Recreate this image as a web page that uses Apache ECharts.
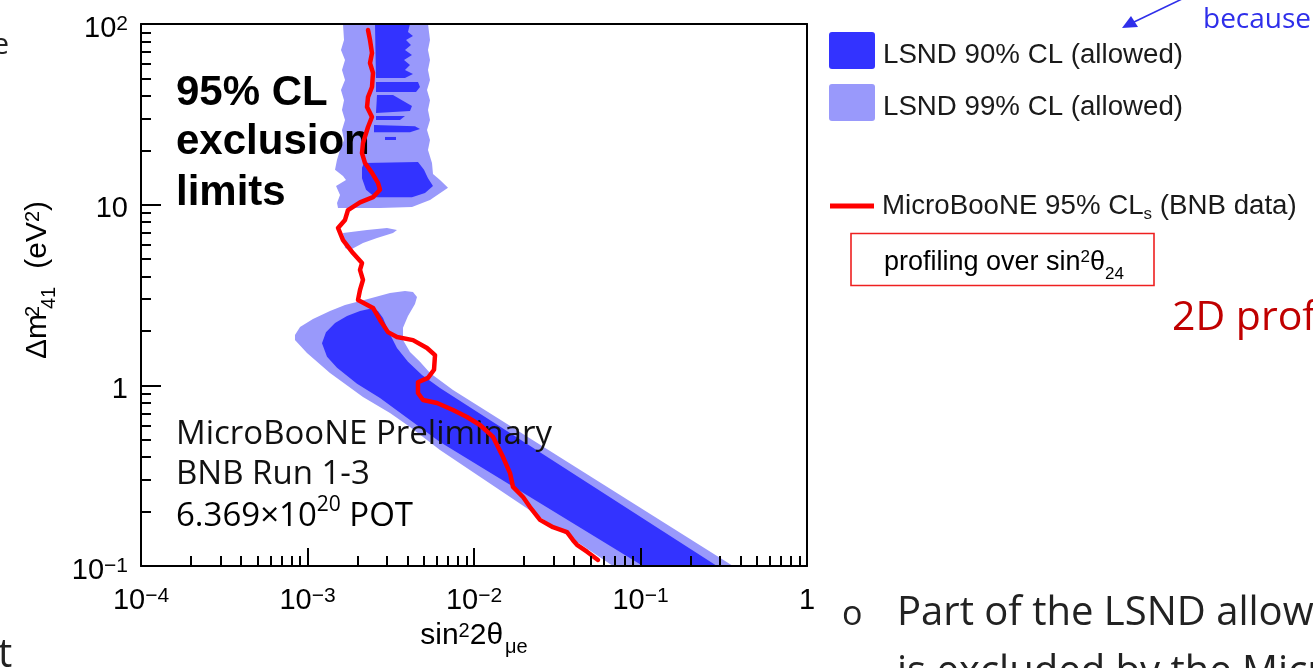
<!DOCTYPE html>
<html>
<head>
<meta charset="utf-8">
<title>LSND allowed regions and MicroBooNE exclusion</title>
<script src="https://cdn.jsdelivr.net/npm/echarts@6/dist/echarts.min.js"></script>
<style>
  html, body { margin: 0; padding: 0; background: #ffffff; overflow: hidden; }
  #chart { width: 1313px; height: 668px; }
</style>
</head>
<body>
<div id="chart"></div>
<script>
// ---- Axis ticks (sin^2 2θ_μe horizontally, Δm^2_41 vertically, both logarithmic) ----
const xTickValues = [1e-4, 1e-3, 1e-2, 1e-1, 1];
const xTickLabels = [['10', '−4'], ['10', '−3'], ['10', '−2'], ['10', '−1'], ['1', '']];
const yTickValues = [0.1, 1, 10, 100];
const yTickLabels = [['10', '−1'], ['1', ''], ['10', ''], ['10', '2']];
const minorMantissas = [2, 3, 4, 5, 6, 7, 8, 9];
const xDecades = [1e-4, 1e-3, 1e-2, 1e-1];
const yDecades = [0.1, 1, 10];

// ---- LSND 99% CL allowed region, vertices as [sin^2 2θ, Δm^2 (eV^2)] ----
const lsnd99Column = [
  [1.634e-3, 100], [1.657e-3, 81.5], [1.589e-3, 71.8], [1.680e-3, 63.2], [1.611e-3, 55.7],
  [1.680e-3, 49.0], [1.589e-3, 43.1], [1.657e-3, 37.9], [1.611e-3, 33.4], [1.680e-3, 29.4],
  [1.611e-3, 25.9], [1.657e-3, 22.8], [1.568e-3, 20.1], [1.504e-3, 17.7], [1.463e-3, 15.6],
  [1.634e-3, 14.4], [1.703e-3, 13.7], [1.484e-3, 12.7], [1.568e-3, 11.3], [1.504e-3, 10.2],
  [1.525e-3, 9.58], [2.725e-3, 9.58], [4.242e-3, 9.71], [5.442e-3, 10.6], [6.980e-3, 12.4],
  [6.249e-3, 13.7], [5.672e-3, 14.8], [5.594e-3, 17.0], [5.293e-3, 20.1], [5.442e-3, 22.8],
  [5.221e-3, 25.9], [5.442e-3, 29.4], [5.293e-3, 33.4], [5.442e-3, 37.9], [5.221e-3, 43.1],
  [5.442e-3, 49.0], [5.293e-3, 55.7], [5.442e-3, 63.2], [5.293e-3, 71.8], [5.442e-3, 81.5],
  [5.293e-3, 100]
];
const lsnd99Wedge = [
  [1.634e-3, 6.97], [2.278e-3, 7.24], [3.002e-3, 7.43], [3.447e-3, 7.24], [3.262e-3, 6.97],
  [2.615e-3, 6.54], [2.154e-3, 6.13], [1.800e-3, 5.61], [1.680e-3, 5.76]
];
const lsnd99Band = [
  [8.41e-4, 1.90], [9.02e-4, 2.10], [1.079e-3, 2.33], [1.365e-3, 2.58], [1.680e-3, 2.78],
  [2.278e-3, 3.00], [3.129e-3, 3.24], [3.851e-3, 3.33], [4.301e-3, 3.29], [4.546e-3, 3.08],
  [4.421e-3, 2.82], [4.014e-3, 2.42], [3.746e-3, 2.08], [3.746e-3, 1.78], [4.127e-3, 1.53],
  [4.738e-3, 1.35], [5.442e-3, 1.17], [7.480e-3, 0.942], [0.3594, 0.1], [6.834e-2, 0.1],
  [6.249e-3, 0.439], [4.127e-3, 0.588], [3.129e-3, 0.703], [2.154e-3, 0.862], [1.365e-3, 1.17],
  [9.93e-4, 1.51], [8.41e-4, 1.78]
];

// ---- LSND 90% CL allowed region ----
const lsnd90Top = [
  [2.543e-3, 100], [4.127e-3, 100], [4.014e-3, 90.3], [4.301e-3, 85.8], [3.905e-3, 81.5],
  [4.184e-3, 76.5], [3.851e-3, 71.8], [4.242e-3, 67.4], [3.799e-3, 63.2], [4.127e-3, 59.3],
  [3.851e-3, 55.7], [4.301e-3, 52.9], [3.851e-3, 50.2], [2.578e-3, 50.2]
];
const lsnd90Stripe1 = [[2.578e-3, 47.7], [4.609e-3, 47.7], [4.738e-3, 44.8], [4.484e-3, 42.0], [2.578e-3, 42.0]];
const lsnd90Stripe2 = [[2.615e-3, 40.5], [3.262e-3, 40.5], [3.695e-3, 37.9], [4.242e-3, 35.2], [4.127e-3, 33.0], [2.578e-3, 32.2]];
const lsnd90Stripe3 = [[2.578e-3, 31.0], [3.851e-3, 31.0], [3.594e-3, 29.4], [2.578e-3, 29.4]];
const lsnd90Stripe4 = [[2.508e-3, 27.6], [4.421e-3, 27.2], [4.738e-3, 26.2], [4.127e-3, 25.2], [2.508e-3, 25.2]];
const lsnd90Speck = [[2.921e-3, 23.7], [3.400e-3, 23.7], [3.400e-3, 22.8], [2.921e-3, 22.8]];
const lsnd90Lump = [
  [2.184e-3, 17.0], [4.609e-3, 17.2], [5.009e-3, 15.6], [5.293e-3, 14.0], [5.672e-3, 12.7],
  [5.078e-3, 11.6], [4.242e-3, 11.0], [2.543e-3, 11.0], [2.246e-3, 12.1], [2.125e-3, 14.0],
  [2.125e-3, 16.0]
];
const lsnd90Band = [
  [1.222e-3, 1.71], [1.291e-3, 1.97], [1.463e-3, 2.21], [1.727e-3, 2.42], [2.067e-3, 2.58],
  [2.374e-3, 2.65], [2.651e-3, 2.58], [2.841e-3, 2.36], [3.086e-3, 1.97], [3.447e-3, 1.61],
  [4.014e-3, 1.35], [4.871e-3, 1.14], [6.249e-3, 0.967], [0.2880, 0.1], [0.1035, 0.1],
  [6.249e-3, 0.486], [4.127e-3, 0.643], [2.725e-3, 0.851], [1.983e-3, 1.02], [1.504e-3, 1.25],
  [1.310e-3, 1.44]
];

// ---- MicroBooNE 95% CLs exclusion contour ----
const microbooneLimit = [
  [2.309e-3, 92.6], [2.374e-3, 81.5], [2.440e-3, 69.1], [2.374e-3, 60.8], [2.474e-3, 53.6],
  [2.440e-3, 44.8], [2.309e-3, 39.4], [2.278e-3, 34.7], [2.440e-3, 30.6], [2.309e-3, 26.9],
  [2.154e-3, 21.9], [2.125e-3, 19.3], [2.215e-3, 17.0], [2.440e-3, 15.0], [2.651e-3, 13.2],
  [2.725e-3, 12.1], [2.474e-3, 11.0], [2.067e-3, 10.3], [1.751e-3, 9.34], [1.680e-3, 8.23],
  [1.525e-3, 7.43], [1.634e-3, 6.37], [1.876e-3, 5.40], [2.125e-3, 4.75], [2.067e-3, 4.35],
  [2.154e-3, 3.83], [2.067e-3, 3.37], [2.011e-3, 2.97], [2.474e-3, 2.68], [2.725e-3, 2.30],
  [3.044e-3, 1.97], [3.447e-3, 1.85], [4.301e-3, 1.78], [5.221e-3, 1.61], [5.832e-3, 1.47],
  [5.752e-3, 1.22], [5.293e-3, 1.10], [4.609e-3, 1.04], [4.609e-3, 0.907], [4.939e-3, 0.829],
  [5.995e-3, 0.799], [7.480e-3, 0.730], [9.078e-3, 0.668], [1.086e-2, 0.603], [1.301e-2, 0.518],
  [1.494e-2, 0.401], [1.646e-2, 0.327], [1.715e-2, 0.274], [1.970e-2, 0.241], [2.169e-2, 0.212],
  [2.492e-2, 0.180], [2.982e-2, 0.164], [3.620e-2, 0.154], [3.932e-2, 0.139], [4.155e-2, 0.131],
  [4.772e-2, 0.120], [5.555e-2, 0.108]
];

const NAME_90 = 'LSND 90% CL (allowed)';
const NAME_99 = 'LSND 99% CL (allowed)';
const NAME_UB = 'MicroBooNE 95% CLs (BNB data)';
const COLOR_90 = '#3333ff';
const COLOR_99 = '#9999fb';
const COLOR_UB = '#ff0000';

const AX = '"Liberation Sans", Arial, Helvetica, sans-serif';
const SL = '"Open Sans", "Noto Sans", sans-serif';

const xMinor = [];
xDecades.forEach(d => minorMantissas.forEach(m => xMinor.push(m * d)));
const yMinor = [];
yDecades.forEach(d => minorMantissas.forEach(m => yMinor.push(m * d)));

function tickFormatter(values, labels) {
  return function (v) {
    const lv = Math.log10(v);
    let idx = 0, best = Infinity;
    values.forEach((t, k) => {
      const d = Math.abs(Math.log10(t) - lv);
      if (d < best) { best = d; idx = k; }
    });
    const base = labels[idx][0], exp = labels[idx][1];
    return '{b|' + base + '}' + (exp ? '{s|' + exp + '}' : '');
  };
}

const tickRich = {
  b: { fontFamily: AX, fontSize: 29, color: '#000', lineHeight: 34, verticalAlign: 'top' },
  s: { fontFamily: AX, fontSize: 21, color: '#000', lineHeight: 34, verticalAlign: 'top' }
};
const titleRich = {
  t: { fontFamily: AX, fontSize: 30, color: '#000', lineHeight: 36, verticalAlign: 'top' },
  g: { fontFamily: AX, fontSize: 30, color: '#000', lineHeight: 36, verticalAlign: 'top', width: 18 },
  p: { fontFamily: AX, fontSize: 20, color: '#000', verticalAlign: 'top' },
  ps: { fontFamily: AX, fontSize: 20, color: '#000', verticalAlign: 'top', width: 1, padding: [0, 0, 0, 2] },
  q: { fontFamily: AX, fontSize: 20, color: '#000', verticalAlign: 'bottom', padding: [0, 0, 0, 2] }
};

const black2 = { color: '#000', width: 2 };

function polygonSeries(name, polys, color, z) {
  return {
    name: name,
    type: 'custom',
    coordinateSystem: 'cartesian2d',
    xAxisIndex: 0,
    yAxisIndex: 0,
    z: z,
    silent: true,
    clip: true,
    itemStyle: { color: color },
    data: polys.map(p => p[0]),
    renderItem: function (params, api) {
      const poly = polys[params.dataIndex];
      return {
        type: 'polygon',
        shape: { points: poly.map(pt => api.coord(pt)) },
        style: { fill: color, stroke: null }
      };
    }
  };
}

const chart = echarts.init(document.getElementById('chart'), null, { renderer: 'canvas' });

const option = {
  animation: false,
  backgroundColor: '#ffffff',
  textStyle: { fontFamily: AX },
  grid: { left: 141, right: 506, top: 24, bottom: 102, containLabel: false, outerBoundsMode: 'none' },
  xAxis: [
    {
      type: 'log', logBase: 10, min: 1e-4, max: 1, position: 'bottom', z: 20,
      axisLine: { show: true, onZero: false, lineStyle: black2 },
      axisTick: { show: true, inside: true, length: 18, customValues: xTickValues, lineStyle: black2 },
      axisLabel: { show: true, customValues: xTickValues, margin: 20, formatter: tickFormatter(xTickValues, xTickLabels), rich: tickRich, color: '#000' },
      splitLine: { show: false },
      name: '{t|sin}{p|2}{t|2θ}{q|μe}',
      nameLocation: 'middle', nameGap: 55, nameMoveOverlap: false,
      nameTextStyle: { rich: titleRich, color: '#000' }
    },
    {
      type: 'log', logBase: 10, min: 1e-4, max: 1, position: 'bottom', z: 20,
      axisLine: { show: false },
      axisTick: { show: true, inside: true, length: 10, customValues: xMinor, lineStyle: black2 },
      axisLabel: { show: false },
      splitLine: { show: false }
    },
    {
      type: 'log', logBase: 10, min: 1e-4, max: 1, position: 'top', z: 20,
      axisLine: { show: true, onZero: false, lineStyle: black2 },
      axisTick: { show: false }, axisLabel: { show: false }, splitLine: { show: false }
    }
  ],
  yAxis: [
    {
      type: 'log', logBase: 10, min: 0.1, max: 100, position: 'left', z: 20,
      axisLine: { show: true, onZero: false, lineStyle: black2 },
      axisTick: { show: true, inside: true, length: 20, customValues: yTickValues, lineStyle: black2 },
      axisLabel: { show: true, customValues: yTickValues, margin: 13, formatter: tickFormatter(yTickValues, yTickLabels), rich: tickRich, color: '#000', padding: [14, 0, 0, 0] },
      splitLine: { show: false },
      name: '{t|Δm}{ps|2}{q|41}{g| }{t|(eV}{p|2}{t|)}',
      nameLocation: 'middle', nameGap: 82, nameMoveOverlap: false,
      nameTextStyle: { rich: titleRich, color: '#000', padding: [0, 0, 0, 30] }
    },
    {
      type: 'log', logBase: 10, min: 0.1, max: 100, position: 'left', z: 20,
      axisLine: { show: false },
      axisTick: { show: true, inside: true, length: 10, customValues: yMinor, lineStyle: black2 },
      axisLabel: { show: false },
      splitLine: { show: false }
    },
    {
      type: 'log', logBase: 10, min: 0.1, max: 100, position: 'right', z: 20,
      axisLine: { show: true, onZero: false, lineStyle: black2 },
      axisTick: { show: false }, axisLabel: { show: false }, splitLine: { show: false }
    }
  ],
  legend: [
    {
      orient: 'vertical', left: 829, top: 32, padding: 0,
      itemWidth: 46, itemHeight: 37, itemGap: 15, selectedMode: false,
      icon: 'path://M3,0 L43,0 Q46,0 46,3 L46,34 Q46,37 43,37 L3,37 Q0,37 0,34 L0,3 Q0,0 3,0 Z',
      data: [NAME_90, NAME_99],
      formatter: function (name) { return '{a|' + name + '}'; },
      textStyle: {
        rich: { a: { fontFamily: AX, fontSize: 27.7, color: '#1a1a1a', padding: [9, 0, 0, 3] } }
      }
    },
    {
      orient: 'vertical', left: 830, top: 192, padding: 0,
      itemWidth: 44, itemHeight: 5, selectedMode: false,
      data: [{ name: NAME_UB, icon: 'rect' }],
      itemStyle: { color: COLOR_UB },
      formatter: function () { return '{f|MicroBooNE 95% CL}{q|s}{t| (BNB data)}'; },
      textStyle: {
        rich: {
          f: { fontFamily: AX, fontSize: 27.7, color: '#1a1a1a', lineHeight: 33, verticalAlign: 'middle', padding: [0, 0, 0, 3] },
          t: { fontFamily: AX, fontSize: 27.7, color: '#1a1a1a', lineHeight: 33, verticalAlign: 'middle' },
          q: { fontFamily: AX, fontSize: 17, color: '#1a1a1a', lineHeight: 33, verticalAlign: 'bottom' }
        }
      }
    }
  ],
  series: [
    polygonSeries(NAME_99, [lsnd99Column, lsnd99Wedge, lsnd99Band], COLOR_99, 1),
    polygonSeries(NAME_90, [lsnd90Top, lsnd90Stripe1, lsnd90Stripe2, lsnd90Stripe3, lsnd90Stripe4, lsnd90Speck, lsnd90Lump, lsnd90Band], COLOR_90, 2),
    {
      name: NAME_UB,
      type: 'line',
      xAxisIndex: 0, yAxisIndex: 0,
      data: microbooneLimit,
      showSymbol: false, symbol: 'none', smooth: false,
      silent: true, z: 10,
      color: COLOR_UB,
      itemStyle: { color: COLOR_UB },
      lineStyle: { color: COLOR_UB, width: 4.5, join: 'round', cap: 'round' }
    }
  ],
  graphic: {
    elements: [
      // plot annotations
      { type: 'text', x: 176, y: 93, z: 5, silent: true, style: { text: '95% CL', font: 'bold 42px ' + AX, fill: '#000', textAlign: 'left', textVerticalAlign: 'middle' } },
      { type: 'text', x: 176, y: 142, z: 5, silent: true, style: { text: 'exclusion', font: 'bold 42px ' + AX, fill: '#000', textAlign: 'left', textVerticalAlign: 'middle' } },
      { type: 'text', x: 176, y: 193, z: 5, silent: true, style: { text: 'limits', font: 'bold 42px ' + AX, fill: '#000', textAlign: 'left', textVerticalAlign: 'middle' } },
      { type: 'text', x: 176, y: 435, z: 5, silent: true, style: { text: 'MicroBooNE Preliminary', font: '33px ' + SL, fill: '#111', textAlign: 'left', textVerticalAlign: 'middle' } },
      { type: 'text', x: 176, y: 475, z: 5, silent: true, style: { text: 'BNB Run 1-3', font: '33px ' + SL, fill: '#111', textAlign: 'left', textVerticalAlign: 'middle' } },
      { type: 'text', x: 176, y: 514, z: 5, silent: true, style: {
          text: '{a|6.369×10}{s|20}{a| POT}', textAlign: 'left', textVerticalAlign: 'middle',
          rich: {
            a: { fontFamily: SL, fontSize: 33, color: '#111', lineHeight: 38, verticalAlign: 'bottom' },
            s: { fontFamily: SL, fontSize: 21, color: '#111', verticalAlign: 'top' }
          } } },
      // legend note box
      { type: 'rect', z: 5, silent: true, shape: { x: 851, y: 233.5, width: 303, height: 52 }, style: { fill: null, stroke: '#ee2020', lineWidth: 1.6 } },
      { type: 'text', x: 884, y: 266, z: 6, silent: true, style: {
          text: '{t|profiling over sin}{p|2}{t|θ}{q|24}', textAlign: 'left', textVerticalAlign: 'middle',
          rich: {
            t: { fontFamily: AX, fontSize: 27, color: '#1a1a1a', lineHeight: 34, verticalAlign: 'top' },
            p: { fontFamily: AX, fontSize: 17, color: '#1a1a1a', verticalAlign: 'top' },
            q: { fontFamily: AX, fontSize: 17, color: '#1a1a1a', verticalAlign: 'bottom' }
          } } },
      // surrounding slide text
      { type: 'text', x: 1203, y: 20, z: 5, silent: true, style: { text: 'because', font: '28px ' + SL, fill: '#2f2fea', textAlign: 'left', textVerticalAlign: 'middle' } },
      { type: 'line', z: 5, silent: true, shape: { x1: 1182, y1: -1, x2: 1134, y2: 22 }, style: { stroke: '#2f2fea', lineWidth: 1.6 } },
      { type: 'polygon', z: 5, silent: true, shape: { points: [[1122, 28], [1131, 16], [1138, 27]] }, style: { fill: '#2f2fea' } },
      { type: 'text', x: 1172, y: 318, z: 5, silent: true, style: { text: '2D profiling', font: '41px ' + SL, fill: '#c00000', textAlign: 'left', textVerticalAlign: 'middle' } },
      { type: 'text', x: 842, y: 615, z: 5, silent: true, style: { text: 'o', font: '34px ' + SL, fill: '#222', textAlign: 'left', textVerticalAlign: 'middle' } },
      { type: 'text', x: 897, y: 614, z: 5, silent: true, style: { text: 'Part of the LSND allowed region', font: '40px ' + SL, fill: '#222', textAlign: 'left', textVerticalAlign: 'middle' } },
      { type: 'text', x: 897, y: 673, z: 5, silent: true, style: { text: 'is excluded by the MicroBooNE data', font: '40px ' + SL, fill: '#222', textAlign: 'left', textVerticalAlign: 'middle' } },
      { type: 'text', x: 9, y: 45, z: 5, silent: true, style: { text: 'e', font: '30px ' + SL, fill: '#222', textAlign: 'right', textVerticalAlign: 'middle' } },
      { type: 'text', x: -2, y: 656, z: 5, silent: true, style: { text: 't', font: '40px ' + SL, fill: '#222', textAlign: 'left', textVerticalAlign: 'middle' } }
    ]
  }
};

chart.setOption(option);
</script>
</body>
</html>
